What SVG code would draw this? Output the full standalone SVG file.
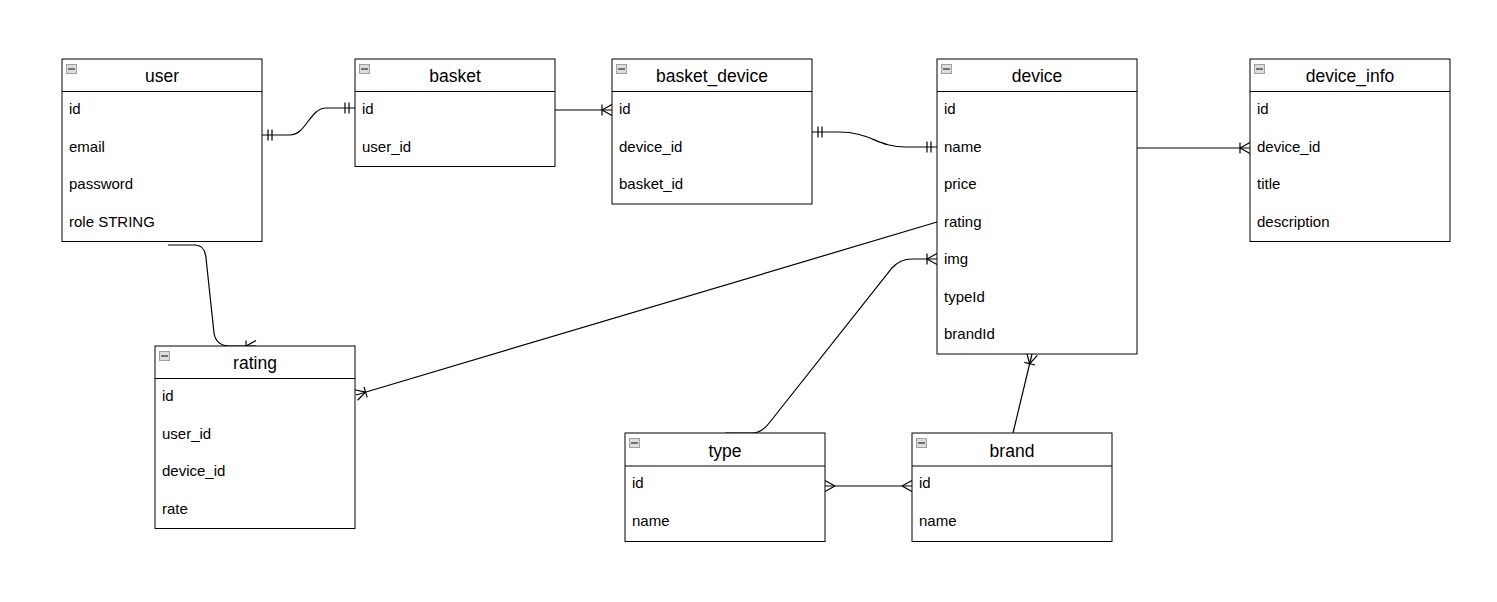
<svg xmlns="http://www.w3.org/2000/svg" width="1497" height="602" viewBox="0 0 1497 602">
  <style>
    .box { fill: #ffffff; stroke: #000000; stroke-width: 1; }
    .hdr { fill: none; stroke: #000000; stroke-width: 1; }
    .title { font-family: "Liberation Sans", Arial, sans-serif; font-size: 17.5px; fill: #000000; text-anchor: middle; }
    .row { font-family: "Liberation Sans", Arial, sans-serif; font-size: 15px; fill: #000000; }
    .icon { fill: #dcdcdc; stroke: #a0a0a0; stroke-width: 1; }
    .icon-bar { stroke: #505050; stroke-width: 1.5; }
    .edge { fill: none; stroke: #000000; stroke-width: 1.2; }
    .mk { fill: none; stroke: #000000; stroke-width: 1.2; }
  </style>
  <defs>
    <!-- mandatory one: two bars -->
    <marker id="mandOne" markerUnits="userSpaceOnUse" markerWidth="20" markerHeight="20" refX="20" refY="10" orient="auto-start-reverse" overflow="visible">
      <path class="mk" d="M10,4.5 L10,15.5 M14,4.5 L14,15.5"/>
    </marker>
    <!-- one or many: bar + crow's foot -->
    <marker id="oneMany" markerUnits="userSpaceOnUse" markerWidth="20" markerHeight="20" refX="20" refY="10" orient="auto-start-reverse" overflow="visible">
      <path class="mk" d="M10,4.5 L10,15.5 M10,10 L20,4.5 M10,10 L20,15.5"/>
    </marker>
    <!-- many: crow's foot -->
    <marker id="many" markerUnits="userSpaceOnUse" markerWidth="20" markerHeight="20" refX="20" refY="10" orient="auto-start-reverse" overflow="visible">
      <path class="mk" d="M10,10 L20,4.5 M10,10 L20,15.5"/>
    </marker>
    <!-- collapse icon in table headers -->
    <g id="collapse">
      <rect class="icon" x="0.5" y="0.5" width="10" height="9"/>
      <line class="icon-bar" x1="2" y1="5" x2="9" y2="5"/>
    </g>
  </defs>

  <rect width="1497" height="602" fill="#ffffff"/>

  <!-- relationships -->
  <g id="connectors">
    <path class="edge" d="M262,135 L290,135 C306,135 310,108 326,108 L355,108" marker-start="url(#mandOne)" marker-end="url(#mandOne)"/>
    <path class="edge" d="M555,110 L612,110" marker-end="url(#oneMany)"/>
    <path class="edge" d="M812,132 L838,132 C872,132 876,147 906,147 L937,147" marker-start="url(#mandOne)" marker-end="url(#mandOne)"/>
    <path class="edge" d="M1137,148 L1250,148" marker-end="url(#oneMany)"/>
    <path class="edge" d="M168,245 L195,245 Q205,245 206,258 L214,333 Q216,346 230,346 L256,346" marker-end="url(#oneMany)"/>
    <path class="edge" d="M937,222 L356,395" marker-end="url(#oneMany)"/>
    <path class="edge" d="M725,433 L752,433 Q762,433 770,422 L892,268 Q900,259 912,259 L937,259" marker-end="url(#oneMany)"/>
    <path class="edge" d="M1013,433 L1032,354" marker-end="url(#oneMany)"/>
    <path class="edge" d="M825,486 L912,486" marker-start="url(#many)" marker-end="url(#many)"/>
  </g>

  <g id="user">
    <rect class="box" x="62" y="59" width="200" height="182.5"/>
    <line class="hdr" x1="62" y1="91.5" x2="262" y2="91.5"/>
    <use href="#collapse" x="66" y="64"/>
    <text class="title" x="162" y="82">user</text>
    <text class="row" x="69" y="114">id</text>
    <text class="row" x="69" y="151.5">email</text>
    <text class="row" x="69" y="189">password</text>
    <text class="row" x="69" y="226.5">role STRING</text>
  </g>

  <g id="basket">
    <rect class="box" x="355" y="59" width="200" height="107.5"/>
    <line class="hdr" x1="355" y1="91.5" x2="555" y2="91.5"/>
    <use href="#collapse" x="359" y="64"/>
    <text class="title" x="455" y="82">basket</text>
    <text class="row" x="362" y="114">id</text>
    <text class="row" x="362" y="151.5">user_id</text>
  </g>

  <g id="basket_device">
    <rect class="box" x="612" y="59" width="200" height="145"/>
    <line class="hdr" x1="612" y1="91.5" x2="812" y2="91.5"/>
    <use href="#collapse" x="616" y="64"/>
    <text class="title" x="712" y="82">basket_device</text>
    <text class="row" x="619" y="114">id</text>
    <text class="row" x="619" y="151.5">device_id</text>
    <text class="row" x="619" y="189">basket_id</text>
  </g>

  <g id="device">
    <rect class="box" x="937" y="59" width="200" height="295"/>
    <line class="hdr" x1="937" y1="91.5" x2="1137" y2="91.5"/>
    <use href="#collapse" x="941" y="64"/>
    <text class="title" x="1037" y="82">device</text>
    <text class="row" x="944" y="114">id</text>
    <text class="row" x="944" y="151.5">name</text>
    <text class="row" x="944" y="189">price</text>
    <text class="row" x="944" y="226.5">rating</text>
    <text class="row" x="944" y="264">img</text>
    <text class="row" x="944" y="301.5">typeId</text>
    <text class="row" x="944" y="339">brandId</text>
  </g>

  <g id="device_info">
    <rect class="box" x="1250" y="59" width="200" height="182.5"/>
    <line class="hdr" x1="1250" y1="91.5" x2="1450" y2="91.5"/>
    <use href="#collapse" x="1254" y="64"/>
    <text class="title" x="1350" y="82">device_info</text>
    <text class="row" x="1257" y="114">id</text>
    <text class="row" x="1257" y="151.5">device_id</text>
    <text class="row" x="1257" y="189">title</text>
    <text class="row" x="1257" y="226.5">description</text>
  </g>

  <g id="rating">
    <rect class="box" x="155" y="346" width="200" height="182.5"/>
    <line class="hdr" x1="155" y1="378.5" x2="355" y2="378.5"/>
    <use href="#collapse" x="159" y="351"/>
    <text class="title" x="255" y="369">rating</text>
    <text class="row" x="162" y="401">id</text>
    <text class="row" x="162" y="438.5">user_id</text>
    <text class="row" x="162" y="476">device_id</text>
    <text class="row" x="162" y="513.5">rate</text>
  </g>

  <g id="type">
    <rect class="box" x="625" y="433" width="200" height="108.5"/>
    <line class="hdr" x1="625" y1="466" x2="825" y2="466"/>
    <use href="#collapse" x="629" y="438"/>
    <text class="title" x="725" y="457">type</text>
    <text class="row" x="632" y="488">id</text>
    <text class="row" x="632" y="526">name</text>
  </g>

  <g id="brand">
    <rect class="box" x="912" y="433" width="200" height="108.5"/>
    <line class="hdr" x1="912" y1="466" x2="1112" y2="466"/>
    <use href="#collapse" x="916" y="438"/>
    <text class="title" x="1012" y="457">brand</text>
    <text class="row" x="919" y="488">id</text>
    <text class="row" x="919" y="526">name</text>
  </g>
</svg>
